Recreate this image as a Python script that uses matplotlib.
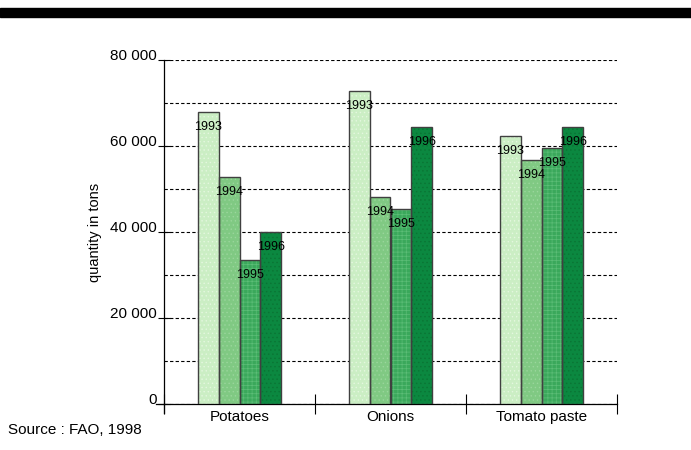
import numpy as np
import matplotlib.pyplot as plt
from matplotlib.patches import Rectangle
from matplotlib.ticker import MultipleLocator, FuncFormatter

plt.rcParams['font.family'] = ['Liberation Sans', 'DejaVu Sans']
plt.rcParams['hatch.linewidth'] = 0.5

categories = ["Potatoes", "Onions", "Tomato paste"]
years = ["1993", "1994", "1995", "1996"]
values = {
    "1993": [67900, 72800, 62300],
    "1994": [52800, 48100, 56700],
    "1995": [33500, 45300, 59500],
    "1996": [40000, 64400, 64400],
}
colors = ["#cbeec4", "#80c983", "#3aa85b", "#0b8840"]
hatch_colors = ["#e4f7df", "#9ad69c", "#5cbd77", "#0a7434"]
hatches = ["....", "....", "++++", "...."]

fig = plt.figure(figsize=(6.91, 4.5), dpi=100)
# black band at the top
fig.patches.append(Rectangle((0, 433 / 450), 1, 9 / 450, transform=fig.transFigure,
                             color="black", zorder=0))

ax = fig.add_axes([164 / 691, 1 - 404 / 450, (617 - 164) / 691, (404 - 60) / 450])

x = np.arange(len(categories))
w = 0.139
for i, yr in enumerate(years):
    pos = x + (i - 1.5) * w
    ax.bar(pos, values[yr], width=w, color=colors[i], linewidth=0, zorder=3)
    ax.bar(pos, values[yr], width=w, facecolor="none", edgecolor=hatch_colors[i],
           hatch=hatches[i], linewidth=0, zorder=3.1)
    ax.bar(pos, values[yr], width=w, facecolor="none", edgecolor="#404040",
           linewidth=1.0, zorder=3.2)
    for xb, v in zip(pos, values[yr]):
        ax.annotate(yr, (xb, v), xytext=(0, -11), textcoords="offset points",
                    ha="center", va="center", fontsize=9, zorder=4)

ax.set_xlim(-0.5, 2.5)
ax.set_ylim(0, 80000)
ax.yaxis.set_major_locator(MultipleLocator(20000))
ax.yaxis.set_minor_locator(MultipleLocator(10000))
ax.yaxis.set_major_formatter(FuncFormatter(lambda v, p: f"{int(v):,}".replace(",", " ")))
ax.grid(axis="y", which="both", linestyle=(0, (3, 2)), color="black", linewidth=0.8, zorder=1)
ax.set_axisbelow(True)

ax.set_xticks([-0.5, 0.5, 1.5, 2.5])
ax.set_xticklabels([])
for xi, c in zip(x, categories):
    ax.text(xi, -1500, c, ha="center", va="top", fontsize=11)

ax.tick_params(axis="x", direction="inout", length=14, width=0.8)
ax.tick_params(axis="y", which="major", direction="inout", length=8, width=0.8,
               labelsize=11, pad=1)
ax.tick_params(axis="y", which="minor", length=0)
for lab in ax.get_yticklabels():
    lab.set_verticalalignment("baseline")

for s in ["top", "right"]:
    ax.spines[s].set_visible(False)
ax.spines["left"].set_linewidth(0.9)
ax.spines["bottom"].set_linewidth(0.9)
# axis lines poke out past the origin
ax.plot([-8 / 453, 0], [0, 0], transform=ax.transAxes, color="black", lw=0.9, clip_on=False)
ax.plot([0, 0], [-9 / 344, 0], transform=ax.transAxes, color="black", lw=0.9, clip_on=False)

ax.set_ylabel("quantity in tons", fontsize=10.5, labelpad=6)

fig.text(8 / 691, 1 - 430 / 450, "Source : FAO, 1998", fontsize=11, va="center")

fig.savefig("out.png", dpi=100)
